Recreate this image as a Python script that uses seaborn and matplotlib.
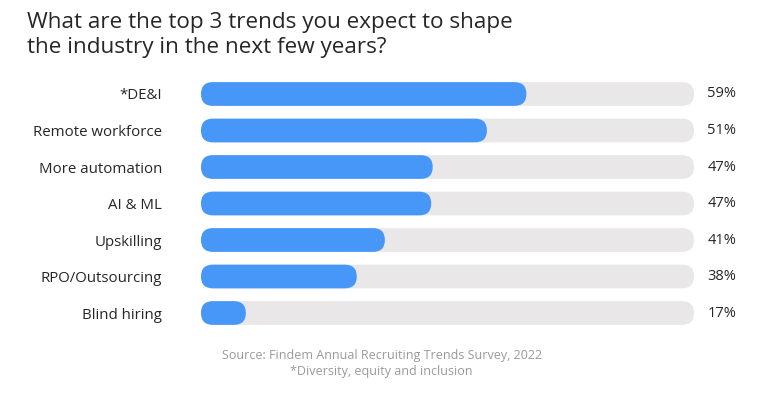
import matplotlib
matplotlib.use("Agg")
import matplotlib.pyplot as plt
from matplotlib.patches import FancyBboxPatch
import seaborn as sns
import pandas as pd

# survey answers (printed share) and drawn bar length (percent of grey track)
trends = ["*DE&I", "Remote workforce", "More automation", "AI & ML",
          "Upskilling", "RPO/Outsourcing", "Blind hiring"]
shares = [59, 51, 47, 47, 41, 38, 17]
bar_length = [66, 58, 47, 46.7, 37.3, 31.6, 9.1]
track_length = [100] * len(trends)

df = pd.DataFrame({"Trend": trends, "Share": shares,
                   "Bar": bar_length, "Track": track_length})

sns.set_theme(style="white")
plt.rcParams["font.family"] = ["Open Sans", "DejaVu Sans"]

BLUE = "#4697f7"
TRACK = "#e9e7e7"
TEXT = "#262626"

fig = plt.figure(figsize=(7.68, 3.97), dpi=100)
ax = fig.add_axes([0.2617, 0.1656, 0.642, 0.6436])

sns.barplot(data=df, x="Track", y="Trend", color=TRACK, width=0.65,
            saturation=1, ax=ax)
sns.barplot(data=df, x="Bar", y="Trend", color=BLUE, width=0.65,
            saturation=1, ax=ax)

ax.set_xlim(0, 100)
ax.set_ylim(len(trends) - 0.5, -0.5)

# turn the plain bars into pills
px_x = 0.642 * 768 / 100
px_y = 0.6436 * 397 / len(trends)
aspect = px_x / px_y
radius = 12 / px_x
for p in list(ax.patches):
    x, y = p.get_x(), p.get_y()
    w, h = p.get_width(), p.get_height()
    pill = FancyBboxPatch((x, y), w, h,
                          boxstyle=f"round,pad=0,rounding_size={radius}",
                          mutation_aspect=aspect,
                          facecolor=p.get_facecolor(), edgecolor="none",
                          zorder=p.get_zorder())
    p.remove()
    ax.add_patch(pill)

for i, v in enumerate(shares):
    ax.text(108.6, i, f"{v}%", ha="right", va="center",
            fontsize=10.5, color=TEXT)

ax.set_xlabel("")
ax.set_ylabel("")
ax.set_xticks([])
ax.tick_params(axis="y", length=0, pad=28, labelsize=10.8, labelcolor=TEXT)
sns.despine(ax=ax, left=True, bottom=True)

fig.text(0.035, 0.97, "What are the top 3 trends you expect to shape\nthe industry in the next few years?",
         ha="left", va="top", fontsize=16.2, color=TEXT, linespacing=1.25)

fig.text(0.497, 0.085, "Source: Findem Annual Recruiting Trends Survey, 2022\n*Diversity, equity and inclusion",
         ha="center", va="center", fontsize=9, color="#9a9a9a", linespacing=1.3)

fig.savefig("out.png", dpi=100)
